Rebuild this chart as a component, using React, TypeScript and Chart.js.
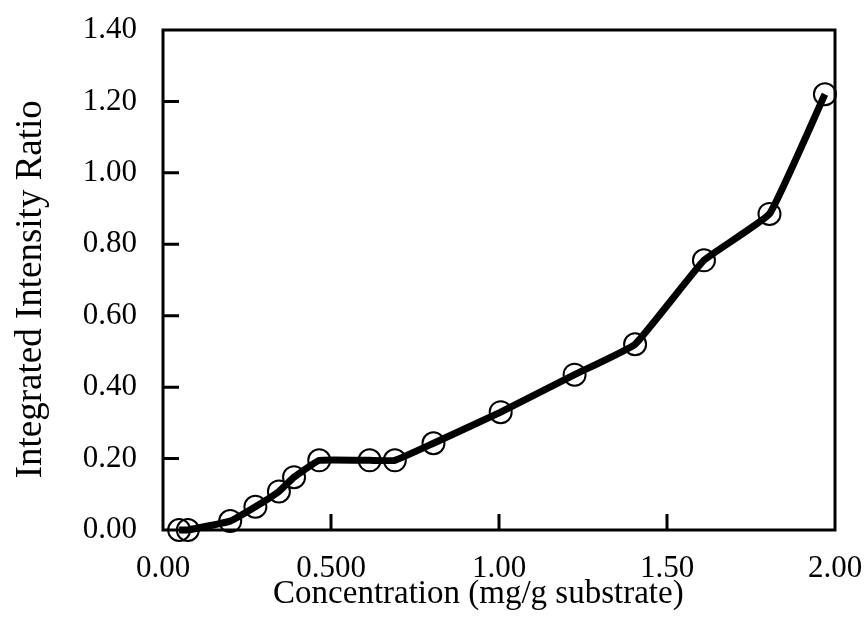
import React, { useEffect, useRef } from "react";
import { Chart, registerables } from "chart.js";

Chart.register(...registerables);

const concentration = [0.048, 0.074, 0.2, 0.275, 0.345, 0.39, 0.465, 0.615, 0.69, 0.805, 1.005, 1.225, 1.405, 1.61, 1.805, 1.97];
const intensityRatio = [0, 0, 0.025, 0.065, 0.108, 0.148, 0.195, 0.195, 0.195, 0.243, 0.33, 0.435, 0.52, 0.755, 0.885, 1.22];
const xTickValues = [0, 0.5, 1.0, 1.5, 2.0];
const xTickLabels = ["0.00", "0.500", "1.00", "1.50", "2.00"];
const yTickValues = [0, 0.2, 0.4, 0.6, 0.8, 1.0, 1.2, 1.4];
const yTickLabels = ["0.00", "0.20", "0.40", "0.60", "0.80", "1.00", "1.20", "1.40"];

const FONT = "'Liberation Serif', 'Times New Roman', serif";

const framePlugin = {
  id: "frameAndInnerTicks",
  afterDraw(chart: any) {
    const { ctx, chartArea } = chart;
    const xs = chart.scales.x;
    const ys = chart.scales.y;
    ctx.save();
    ctx.strokeStyle = "#000";
    ctx.lineWidth = 3;
    ctx.strokeRect(chartArea.left, chartArea.top, chartArea.right - chartArea.left, chartArea.bottom - chartArea.top);
    const len = 16;
    ctx.beginPath();
    yTickValues.forEach((v) => {
      if (v <= 0 || v >= 1.4) return;
      const py = ys.getPixelForValue(v);
      ctx.moveTo(chartArea.left, py);
      ctx.lineTo(chartArea.left + len, py);
    });
    xTickValues.forEach((v) => {
      if (v <= 0 || v >= 2) return;
      const px = xs.getPixelForValue(v);
      ctx.moveTo(px, chartArea.bottom);
      ctx.lineTo(px, chartArea.bottom - len);
    });
    ctx.stroke();
    ctx.restore();
  },
};

export default function App() {
  const ref = useRef<HTMLCanvasElement | null>(null);
  useEffect(() => {
    if (!ref.current) return;
    const chart = new Chart(ref.current, {
      type: "line",
      data: {
        datasets: [
          {
            data: concentration.map((x, i) => ({ x, y: intensityRatio[i] })),
            borderColor: "#000",
            borderWidth: 7,
            tension: 0.1,
            pointRadius: 11,
            pointBorderWidth: 2,
            pointBorderColor: "#000",
            pointBackgroundColor: "rgba(0,0,0,0)",
            pointStyle: "circle",
            clip: false as any,
          },
        ],
      },
      options: {
        responsive: false,
        animation: false,
        events: [],
        layout: { padding: { left: 9, right: 33, top: 30, bottom: 14 } },
        plugins: { legend: { display: false }, tooltip: { enabled: false } },
        scales: {
          x: {
            type: "linear",
            min: 0,
            max: 2,
            afterBuildTicks: (scale: any) => {
              scale.ticks = xTickValues.map((value) => ({ value }));
            },
            afterFit: (scale: any) => {
              scale.height = 84;
              scale.paddingLeft = 0;
              scale.paddingRight = 0;
            },
            grid: { display: false, drawTicks: false },
            border: { display: false },
            ticks: {
              padding: 20,
              maxRotation: 0,
              autoSkip: false,
              color: "#000",
              font: { family: FONT, size: 31 },
              callback: (v: any) => {
                const i = xTickValues.indexOf(Number(v));
                return i >= 0 ? xTickLabels[i] : "";
              },
            },
            title: {
              display: true,
              text: "Concentration (mg/g substrate)     ",
              color: "#000",
              font: { family: FONT, size: 33 },
              padding: 0,
            },
          },
          y: {
            type: "linear",
            min: 0,
            max: 1.4,
            afterBuildTicks: (scale: any) => {
              scale.ticks = yTickValues.map((value) => ({ value }));
            },
            afterFit: (scale: any) => {
              scale.width = 154;
              scale.paddingTop = 0;
              scale.paddingBottom = 0;
            },
            grid: { display: false, drawTicks: false },
            border: { display: false },
            ticks: {
              padding: 26,
              autoSkip: false,
              color: "#000",
              font: { family: FONT, size: 31 },
              callback: (v: any) => {
                const i = yTickValues.findIndex((t) => Math.abs(t - Number(v)) < 1e-9);
                return i >= 0 ? yTickLabels[i] : "";
              },
            },
            title: {
              display: true,
              text: "Integrated Intensity Ratio  ",
              color: "#000",
              font: { family: FONT, size: 37 },
              padding: 0,
            },
          },
        },
      },
      plugins: [framePlugin],
    });
    return () => chart.destroy();
  }, []);
  return (
    <div style={{ position: "fixed", left: 0, top: 0, width: 868, height: 628, background: "#fff" }}>
      <canvas ref={ref} width={868} height={628} />
    </div>
  );
}
